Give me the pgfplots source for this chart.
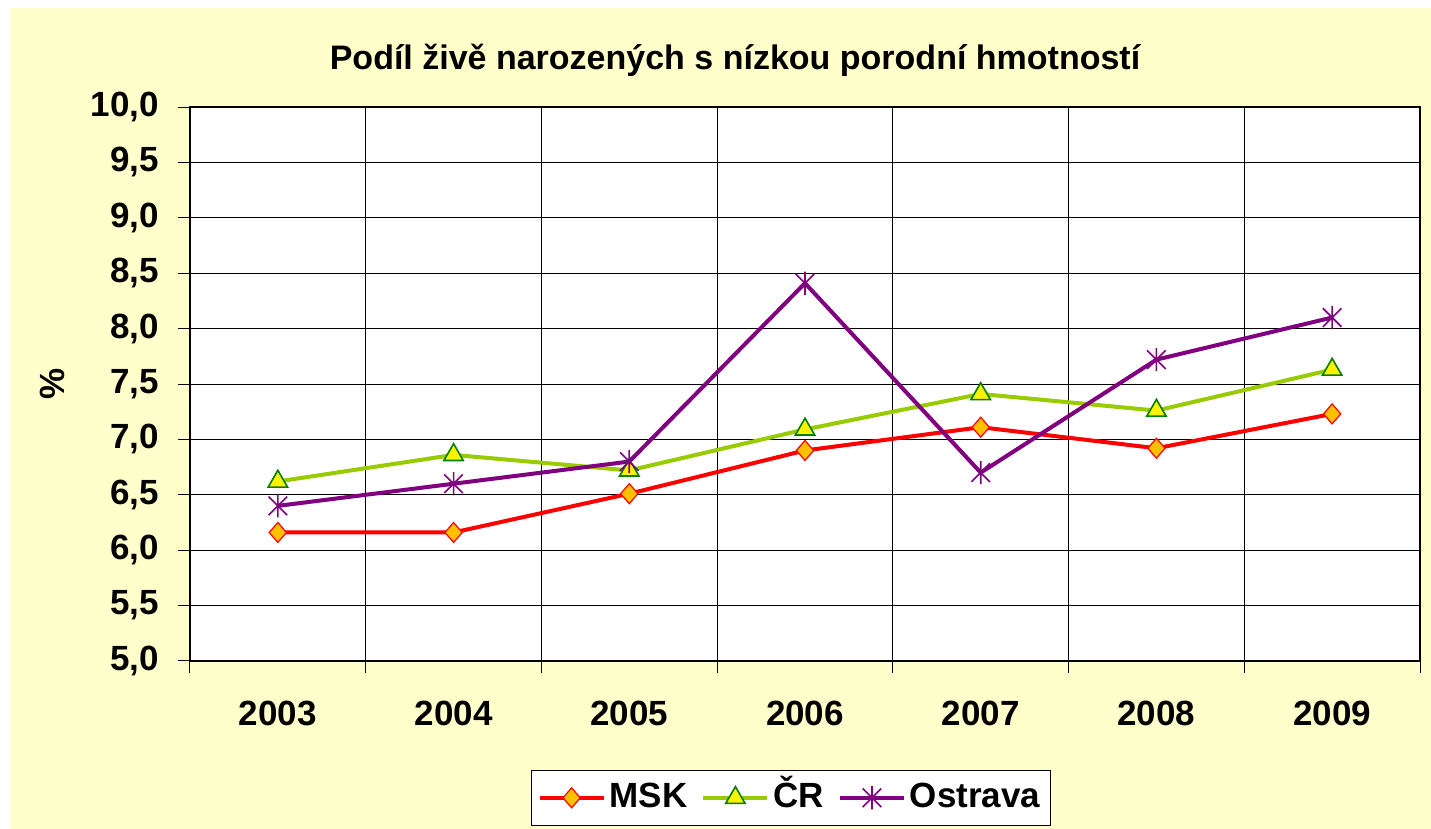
\documentclass[border=0pt]{standalone}
\usepackage{fontspec}
\setmainfont{Liberation Sans}
\usepackage{pgfplots}
\pgfplotsset{compat=1.18}
\definecolor{bgy}{HTML}{FFFFCC}
\definecolor{mskfill}{HTML}{FFC000}
\definecolor{crline}{HTML}{99CC00}
\definecolor{crmark}{HTML}{008000}
\definecolor{ostr}{HTML}{800080}
\pgfdeclareplotmark{xstar}{%
  \pgfpathmoveto{\pgfqpoint{0pt}{\pgfplotmarksize}}%
  \pgfpathlineto{\pgfqpoint{0pt}{-\pgfplotmarksize}}%
  \pgfpathmoveto{\pgfqpoint{-0.8\pgfplotmarksize}{0.8\pgfplotmarksize}}%
  \pgfpathlineto{\pgfqpoint{0.8\pgfplotmarksize}{-0.8\pgfplotmarksize}}%
  \pgfpathmoveto{\pgfqpoint{-0.8\pgfplotmarksize}{-0.8\pgfplotmarksize}}%
  \pgfpathlineto{\pgfqpoint{0.8\pgfplotmarksize}{0.8\pgfplotmarksize}}%
  \pgfusepathqstroke}
\begin{document}
\begin{tikzpicture}
\fill[white] (-95pt,-84pt) rectangle (620.5pt,330.5pt);
\fill[bgy] (-90pt,-84pt) rectangle (620.5pt,326.5pt);
\begin{axis}[
  at={(0pt,0pt)}, anchor=south west,
  scale only axis, width=615pt, height=277pt,
  xmin=-0.5, xmax=6.5, ymin=5, ymax=10,
  axis background/.style={fill=white},
  xtick={0,...,6},
  xticklabels={2003,2004,2005,2006,2007,2008,2009},
  minor xtick={-0.5,0.5,...,6.5},
  xminorgrids,
  major x tick style={draw=none},
  ytick={5,5.5,...,10},
  ymajorgrids,
  tick align=outside,
  major tick length=6pt, minor tick length=6pt,
  tick style={black, line width=0.5pt},
  grid style={black, line width=0.5pt},
  axis line style={black, line width=0.6pt},
  xtick pos=bottom, ytick pos=left,
  /pgf/number format/.cd, use comma, fixed, fixed zerofill, precision=1, assume math mode=true,
  /pgfplots/.cd,
  tick label style={font=\bfseries\fontsize{17.5}{20}\selectfont},
  xticklabel style={anchor=center, yshift=-20pt},
  yticklabel style={anchor=east, xshift=-6pt},
  ylabel={\%},
  ylabel style={at={(axis description cs:-0.1122,0.5)}, anchor=center, font=\bfseries\fontsize{17.5}{20}\selectfont},
  legend columns=3,
  legend style={at={(axis description cs:0.4886,-0.247)}, anchor=center, draw=black, line width=0.5pt, fill=white,
    font=\bfseries\fontsize{17.5}{20}\selectfont, inner xsep=3pt, inner ysep=5pt,
    nodes={text height=2.2ex, text depth=0.3ex},
    /tikz/every even column/.append style={column sep=5pt}},
  legend image code/.code={\draw[#1] (0pt,0pt) -- (16pt,0pt) -- (32pt,0pt); \draw[#1, only marks] plot coordinates {(16pt,0pt)};},
]
\addplot[red, line width=2pt, mark=diamond*, mark size=5pt, mark options={fill=mskfill, draw=red, line width=0.6pt, solid, xscale=1.15}]
  coordinates {(0,6.16) (1,6.16) (2,6.51) (3,6.90) (4,7.11) (5,6.92) (6,7.23)};
\addlegendentry{MSK}
\addplot[crline, line width=2pt, mark=triangle*, mark size=5.6pt, mark options={fill=yellow, draw=crmark, line width=0.8pt, solid}]
  coordinates {(0,6.62) (1,6.86) (2,6.72) (3,7.09) (4,7.41) (5,7.26) (6,7.63)};
\addlegendentry{ČR}
\addplot[ostr, line width=2pt, mark=xstar, mark size=5.8pt, mark options={draw=ostr, line width=0.8pt, solid}]
  coordinates {(0,6.40) (1,6.60) (2,6.80) (3,8.41) (4,6.70) (5,7.72) (6,8.10)};
\addlegendentry{Ostrava}
\end{axis}
\node[font=\bfseries\fontsize{17}{20}\selectfont] at (272.5pt,300.5pt) {Podíl živě narozených s nízkou porodní hmotností};
\end{tikzpicture}
\end{document}
